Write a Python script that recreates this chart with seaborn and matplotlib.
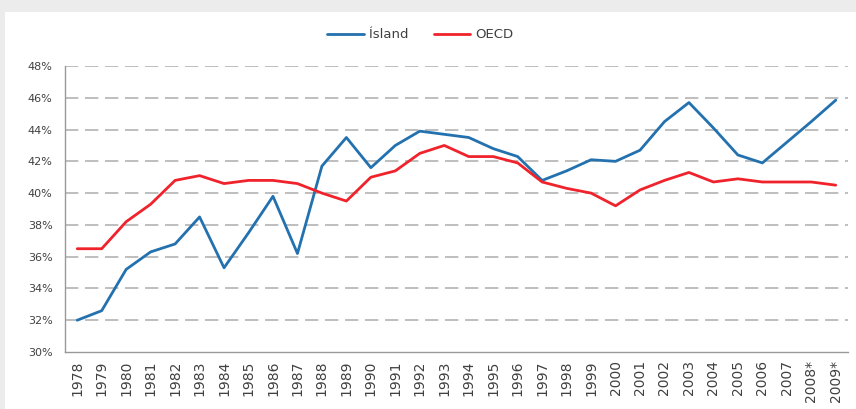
import numpy as np
import pandas as pd
import matplotlib
matplotlib.use("Agg")
import matplotlib.pyplot as plt
from matplotlib.patches import Rectangle
import seaborn as sns

# Data (share of GDP, %)
years = ["1978", "1979", "1980", "1981", "1982", "1983", "1984", "1985", "1986", "1987",
         "1988", "1989", "1990", "1991", "1992", "1993", "1994", "1995", "1996", "1997",
         "1998", "1999", "2000", "2001", "2002", "2003", "2004", "2005", "2006", "2007",
         "2008*", "2009*"]
island = [32.0, 32.6, 35.2, 36.3, 36.8, 38.5, 35.3, 37.5, 39.8, 36.2,
          41.7, 43.5, 41.6, 43.0, 43.9, 43.7, 43.5, 42.8, 42.3, 40.8,
          41.4, 42.1, 42.0, 42.7, 44.5, 45.7, 44.1, 42.4, 41.9, 43.2,
          44.5, 45.85]
oecd = [36.5, 36.5, 38.2, 39.3, 40.8, 41.1, 40.6, 40.8, 40.8, 40.6,
        40.0, 39.5, 41.0, 41.4, 42.5, 43.0, 42.3, 42.3, 41.9, 40.7,
        40.3, 40.0, 39.2, 40.2, 40.8, 41.3, 40.7, 40.9, 40.7, 40.7,
        40.7, 40.5]
series_names = ["Ísland", "OECD"]
colors = ["#2371ae", "#f0232c"]
yticks = [30, 32, 34, 36, 38, 40, 42, 44, 46, 48]

# long-format table for seaborn
pos = np.arange(len(years))
df = pd.concat([
    pd.DataFrame({"pos": pos, "value": island, "series": series_names[0]}),
    pd.DataFrame({"pos": pos, "value": oecd, "series": series_names[1]}),
])

sns.set_style("white")
plt.rcParams["font.family"] = ["DejaVu Sans"]
text_color = "#404040"

fig = plt.figure(figsize=(8.56, 4.09), dpi=100)
fig.patch.set_facecolor("#ececec")
# white chart area inside the screenshot frame
fig.patches.append(Rectangle((5 / 856, 0), 1, 1 - 12 / 409, transform=fig.transFigure,
                             facecolor="white", edgecolor="none", zorder=-5))

ax = fig.add_axes([65 / 856, 1 - 352 / 409, 783 / 856, 286 / 409])
ax.set_zorder(2)
ax.set_facecolor("none")

sns.lineplot(data=df, x="pos", y="value", hue="series", palette=colors,
             linewidth=2.0, ax=ax, legend=False, zorder=3)

ax.set_xlim(-0.5, len(years) - 0.5)
ax.set_ylim(30, 48)
ax.set_yticks(yticks)
ax.set_yticklabels([f"{v}%" for v in yticks], fontsize=8, color=text_color)
ax.set_xticks(pos)
ax.set_xticklabels(years, rotation=90, fontsize=10, color=text_color)
ax.set_xticks(np.arange(-0.5, len(years), 1), minor=True)
ax.tick_params(axis="x", which="major", length=0, pad=6)
ax.tick_params(axis="x", which="minor", length=4, color="#999999", width=1, direction="out")
ax.tick_params(axis="y", length=5, color="#999999", width=1, direction="out", pad=4)
ax.set_xlabel("")
ax.set_ylabel("")

# dashed horizontal gridlines
for v in yticks[1:]:
    ax.axhline(v, color="#b3b3b3", linewidth=1.2, linestyle=(0, (8, 4)), zorder=1)

for side in ["top", "right"]:
    ax.spines[side].set_visible(False)
for side in ["left", "bottom"]:
    ax.spines[side].set_color("#999999")
    ax.spines[side].set_linewidth(1)

handles = [plt.Line2D([], [], color=c, linewidth=2.0) for c in colors]
fig.legend(handles, series_names, loc="center", bbox_to_anchor=(0.491, 1 - 35 / 409),
           ncol=2, frameon=False, fontsize=9.5, handlelength=2.8, handletextpad=0.4,
           columnspacing=1.9, labelcolor=text_color)

fig.savefig("out.png", dpi=100)
